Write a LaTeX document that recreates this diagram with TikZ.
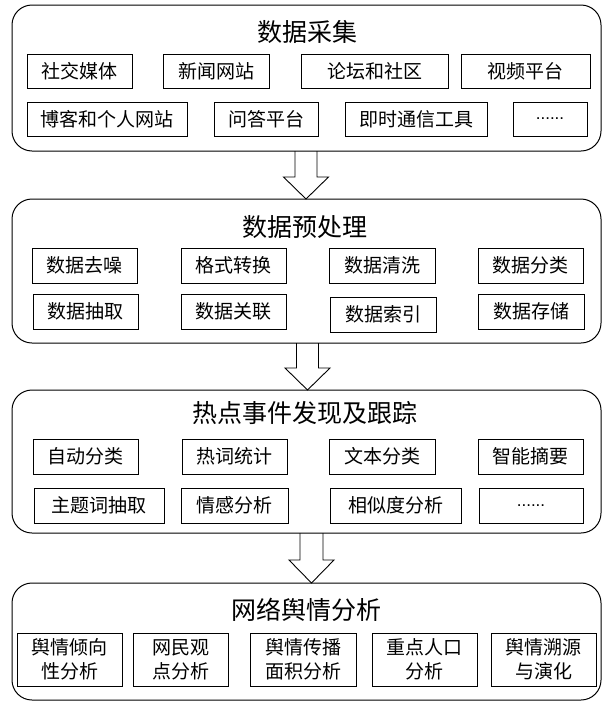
\documentclass[tikz,border=0pt]{standalone}
\usepackage{fontspec}
\newfontfamily\cjk{Noto Sans CJK SC}
\newfontfamily\lat{Liberation Sans}
\usetikzlibrary{calc}
\newcommand\sbx[6]{\node[sbox, anchor=north west, minimum width={#4-#2}, minimum height={#5-#3}] (#1) at (#2,#3) {#6};}
\newcommand\gbx[5]{\node[bigbox, anchor=north west, minimum width={#4-#2}, minimum height={#5-#3}] (#1) at (#2,#3) {};}
\newcommand\dotsx{{\lat\fontsize{17}{20}\selectfont ......}}
\begin{document}
\begin{tikzpicture}[x=1pt,y=-1pt,
  bigbox/.style={draw, line width=1pt, rounded corners=20pt, inner sep=0pt, outer sep=0pt},
  sbox/.style={draw, line width=0.9pt, inner sep=0pt, outer sep=0pt, font=\cjk\fontsize{19}{24}\selectfont, align=center},
  ttl/.style={font=\cjk\fontsize{25}{30}\selectfont, inner sep=0pt},
  barrow/.style={draw, line width=0.9pt, line join=miter}]
\useasboundingbox (0,0) rectangle (603,702);

% big frames
\gbx{g1}{12}{5}{601}{151}
\gbx{g2}{12}{199}{601}{343}
\gbx{g3}{12}{390}{601}{533}
\gbx{g4}{12}{583}{601}{700}

% titles
\node[ttl] (t1) at (307,32) {数据采集};
\node[ttl] (t2) at (305,227) {数据预处理};
\node[ttl] (t3) at (305,413) {热点事件发现及跟踪};
\node[ttl] (t4) at (306,610) {网络舆情分析};

% stage 1
\sbx{a11}{27}{54}{132}{88}{社交媒体}
\sbx{a12}{163}{54}{269}{88}{新闻网站}
\sbx{a13}{301}{54}{448}{88}{论坛和社区}
\sbx{a14}{461}{54}{590}{88}{视频平台}
\sbx{a21}{27}{102}{187}{136}{博客和个人网站}
\sbx{a22}{214}{102}{318}{136}{问答平台}
\sbx{a23}{345}{102}{487}{136}{即时通信工具}
\sbx{a24}{513}{102}{587}{136}{\dotsx}

% stage 2
\sbx{b11}{32}{248}{137}{283}{数据去噪}
\sbx{b12}{181}{248}{286}{283}{格式转换}
\sbx{b13}{329}{248}{435}{283}{数据清洗}
\sbx{b14}{478}{248}{583}{283}{数据分类}
\sbx{b21}{33}{294}{138}{329}{数据抽取}
\sbx{b22}{181}{294}{286}{329}{数据关联}
\sbx{b23}{330}{297}{436}{332}{数据索引}
\sbx{b24}{478}{294}{584}{329}{数据存储}

% stage 3
\sbx{c11}{33}{439}{138}{474}{自动分类}
\sbx{c12}{182}{439}{287}{474}{热词统计}
\sbx{c13}{329}{439}{435}{474}{文本分类}
\sbx{c14}{478}{439}{583}{474}{智能摘要}
\sbx{c21}{34}{488}{164}{523}{主题词抽取}
\sbx{c22}{181}{488}{288}{523}{情感分析}
\sbx{c23}{330}{488}{461}{523}{相似度分析}
\sbx{c24}{479}{488}{583}{523}{\dotsx}

% stage 4
\sbx{d1}{17}{633}{122}{686}{舆情倾向\\性分析}
\sbx{d2}{133}{633}{228}{686}{网民观\\点分析}
\sbx{d3}{250}{633}{356}{686}{舆情传播\\面积分析}
\sbx{d4}{372}{633}{477}{686}{重点人口\\分析}
\sbx{d5}{491}{633}{596}{686}{舆情溯源\\与演化}

% block arrows
\coordinate (x1) at (306,0);
\coordinate (x2) at (307.5,0);
\coordinate (x3) at (311.5,0);
\draw[barrow] let \p1=(g1.south -| x1), \p2=(g2.north -| x1) in
  (\x1-11pt,\y1) -- (\x1-11pt,\y2+22pt) -- (\x1-22.5pt,\y2+22pt) -- (\p2)
  -- (\x1+22.5pt,\y2+22pt) -- (\x1+11pt,\y2+22pt) -- (\x1+11pt,\y1);
\draw[barrow] let \p1=(g2.south -| x2), \p2=(g3.north -| x2) in
  (\x1-11pt,\y1) -- (\x1-11pt,\y2+22pt) -- (\x1-22.5pt,\y2+22pt) -- (\p2)
  -- (\x1+22.5pt,\y2+22pt) -- (\x1+11pt,\y2+22pt) -- (\x1+11pt,\y1);
\draw[barrow] let \p1=(g3.south -| x3), \p2=(g4.north -| x3) in
  (\x1-11.5pt,\y1) -- (\x1-11.5pt,\y2+23pt) -- (\x1-22.5pt,\y2+23pt) -- (\p2)
  -- (\x1+22.5pt,\y2+23pt) -- (\x1+11.5pt,\y2+23pt) -- (\x1+11.5pt,\y1);
\end{tikzpicture}
\end{document}
